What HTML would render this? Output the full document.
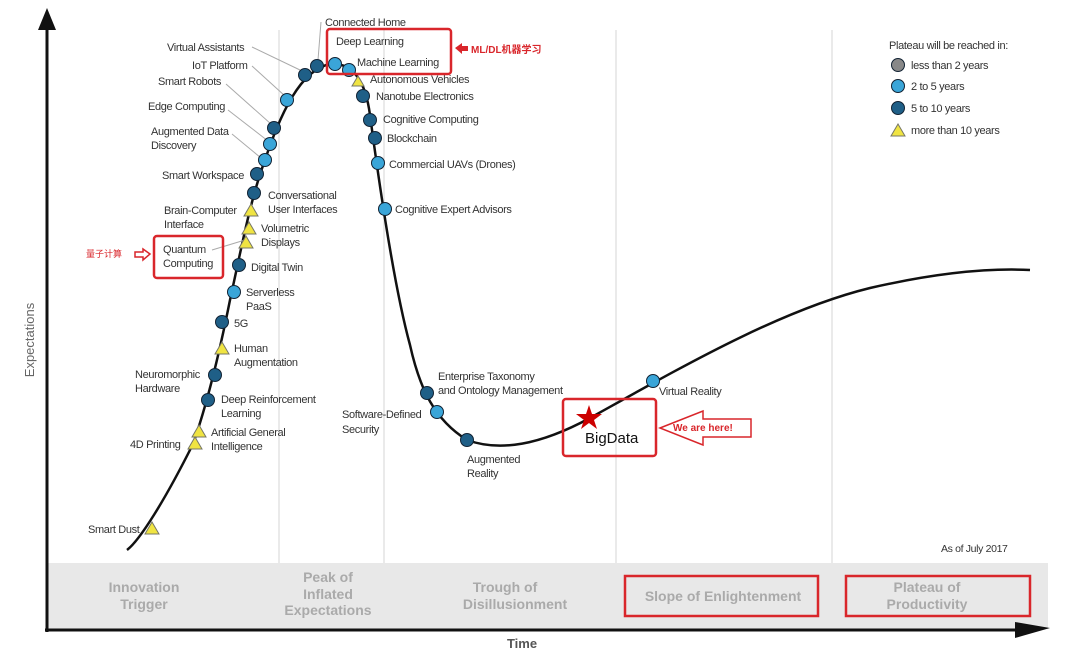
<!DOCTYPE html>
<html><head><meta charset="utf-8"><style>
body{margin:0;background:#fff}
svg{display:block}
.l{font-family:"Liberation Sans",sans-serif;font-size:11px;letter-spacing:-0.35px;fill:#333}
.p{font-family:"Liberation Sans",sans-serif;font-size:14px;font-weight:bold;fill:#aaa;text-anchor:middle}
.ld{stroke:#aaa;stroke-width:1;fill:none}
</style></head><body>
<svg width="1080" height="660" viewBox="0 0 1080 660" xmlns="http://www.w3.org/2000/svg">
<rect x="48" y="563" width="1000" height="66" fill="#e8e8e8"/>
<g stroke="#e4e4e4" stroke-width="1.5">
<line x1="279" y1="30" x2="279" y2="563"/><line x1="384" y1="30" x2="384" y2="563"/>
<line x1="616" y1="30" x2="616" y2="563"/><line x1="832" y1="30" x2="832" y2="563"/>
</g>
<line x1="47" y1="22" x2="47" y2="632" stroke="#111" stroke-width="3"/>
<polygon points="38,30 47,8 56,30" fill="#111"/>
<line x1="45" y1="630" x2="1030" y2="630" stroke="#111" stroke-width="3"/>
<polygon points="1015,622 1050,628 1015,638" fill="#111"/>
<text x="34" y="340" transform="rotate(-90 34 340)" font-family="Liberation Sans,sans-serif" font-size="13" fill="#666" text-anchor="middle">Expectations</text>
<text x="522" y="648" font-family="Liberation Sans,sans-serif" font-size="13" font-weight="bold" fill="#555" text-anchor="middle">Time</text>
<path d="M127,550 C140,540 165,500 193,444 C205,410 218,360 230,300 C240,255 250,200 265,160 C280,115 300,70 330,64 C355,62 366,85 370,115 C380,190 395,290 410,345 C420,390 435,420 467,440 C500,452 540,445 590,418 C680,368 780,310 870,288 C940,272 990,268 1030,270" fill="none" stroke="#111" stroke-width="2.5"/>
<!-- leader lines -->
<path class="ld" d="M252,47 L300,70 M252,66 L285,96 M226,84 L271,124 M228,110 L268,141 M232,134 L261,158 M321,22 L318,60 M212,250 L245,240"/>
<!-- markers -->
<g stroke="#123" stroke-width="1">
<g fill="#1f5f87">
<circle cx="305" cy="75" r="6.5"/><circle cx="317" cy="66" r="6.5"/><circle cx="274" cy="128" r="6.5"/><circle cx="254" cy="193" r="6.5"/><circle cx="257" cy="174" r="6.5"/><circle cx="239" cy="265" r="6.5"/><circle cx="222" cy="322" r="6.5"/><circle cx="215" cy="375" r="6.5"/><circle cx="208" cy="400" r="6.5"/><circle cx="363" cy="96" r="6.5"/><circle cx="370" cy="120" r="6.5"/><circle cx="375" cy="138" r="6.5"/><circle cx="427" cy="393" r="6.5"/><circle cx="467" cy="440" r="6.5"/>
</g>
<g fill="#3aa5d8">
<circle cx="335" cy="64" r="6.5"/><circle cx="349" cy="70" r="6.5"/><circle cx="287" cy="100" r="6.5"/><circle cx="270" cy="144" r="6.5"/><circle cx="265" cy="160" r="6.5"/><circle cx="234" cy="292" r="6.5"/><circle cx="378" cy="163" r="6.5"/><circle cx="385" cy="209" r="6.5"/><circle cx="437" cy="412" r="6.5"/><circle cx="653" cy="381" r="6.5"/>
</g>
<g fill="#f0e442" stroke="#776">
<polygon points="358,76 352,86 364,86"/><polygon points="251,204 244,216 258,216"/><polygon points="249,222 242,234 256,234"/><polygon points="246,236 239,248 253,248"/><polygon points="222,342 215,354 229,354"/><polygon points="199,425 192,437 206,437"/><polygon points="195,437 188,449 202,449"/><polygon points="152,522 145,534 159,534"/>
</g>
</g>
<!-- labels -->
<g class="l">
<text x="325" y="26">Connected Home</text>
<text x="336" y="45">Deep Learning</text>
<text x="357" y="66">Machine Learning</text>
<text x="370" y="83">Autonomous Vehicles</text>
<text x="376" y="100">Nanotube Electronics</text>
<text x="383" y="123">Cognitive Computing</text>
<text x="387" y="142">Blockchain</text>
<text x="389" y="168">Commercial UAVs (Drones)</text>
<text x="395" y="213">Cognitive Expert Advisors</text>
<text x="167" y="51">Virtual Assistants</text>
<text x="192" y="69">IoT Platform</text>
<text x="158" y="85">Smart Robots</text>
<text x="148" y="110">Edge Computing</text>
<text x="151" y="135">Augmented Data</text><text x="151" y="149">Discovery</text>
<text x="162" y="179">Smart Workspace</text>
<text x="268" y="199">Conversational</text><text x="268" y="213">User Interfaces</text>
<text x="164" y="214">Brain-Computer</text><text x="164" y="228">Interface</text>
<text x="261" y="232">Volumetric</text><text x="261" y="246">Displays</text>
<text x="163" y="253">Quantum</text><text x="163" y="267">Computing</text>
<text x="251" y="271">Digital Twin</text>
<text x="246" y="296">Serverless</text><text x="246" y="310">PaaS</text>
<text x="234" y="327">5G</text>
<text x="234" y="352">Human</text><text x="234" y="366">Augmentation</text>
<text x="135" y="378">Neuromorphic</text><text x="135" y="392">Hardware</text>
<text x="221" y="403">Deep Reinforcement</text><text x="221" y="417">Learning</text>
<text x="211" y="436">Artificial General</text><text x="211" y="450">Intelligence</text>
<text x="130" y="448">4D Printing</text>
<text x="88" y="533">Smart Dust</text>
<text x="438" y="380">Enterprise Taxonomy</text><text x="438" y="394">and Ontology Management</text>
<text x="342" y="418">Software-Defined</text><text x="342" y="433">Security</text>
<text x="467" y="463">Augmented</text><text x="467" y="477">Reality</text>
<text x="659" y="395">Virtual Reality</text>
<text x="889" y="49">Plateau will be reached in:</text>
<text x="911" y="69">less than 2 years</text>
<text x="911" y="90">2 to 5 years</text>
<text x="911" y="112">5 to 10 years</text>
<text x="911" y="134">more than 10 years</text>
<text x="941" y="552" font-size="10.5">As of July 2017</text>
</g>
<g stroke="#123" stroke-width="1">
<circle cx="898" cy="65" r="6.5" fill="#888"/><circle cx="898" cy="86" r="6.5" fill="#3aa5d8"/><circle cx="898" cy="108" r="6.5" fill="#1f5f87"/>
<polygon points="898,124 891,136 905,136" fill="#f0e442" stroke="#776"/>
</g>
<!-- phases -->
<text class="p" x="144" y="592">Innovation</text><text class="p" x="144" y="609">Trigger</text>
<text class="p" x="328" y="582">Peak of</text><text class="p" x="328" y="599">Inflated</text><text class="p" x="328" y="615">Expectations</text>
<text class="p" x="505" y="592">Trough of</text><text class="p" x="515" y="609">Disillusionment</text>
<text class="p" x="723" y="601">Slope of Enlightenment</text>
<text class="p" x="927" y="592">Plateau of</text><text class="p" x="927" y="609">Productivity</text>
<!-- red annotations -->
<g fill="none" stroke="#d9262b" stroke-width="2.5">
<rect x="327" y="29" width="124" height="45" rx="3"/>
<rect x="154" y="236" width="69" height="42" rx="3"/>
<rect x="563" y="399" width="93" height="57" rx="3"/>
<rect x="625" y="576" width="193" height="40"/>
<rect x="846" y="576" width="184" height="40"/>
</g>
<polygon points="455,48 462,43 462,46 468,46 468,51 462,51 462,54" fill="#d9262b"/>
<text x="471" y="53" font-family="Liberation Sans,'Noto Sans CJK SC',sans-serif" font-size="10" font-weight="bold" fill="#d9262b">ML/DL机器学习</text>
<text x="86" y="257" font-family="'Noto Sans CJK SC',sans-serif" font-size="9" fill="#d9262b">量子计算</text>
<polygon points="150,254 143,249 143,252 135,252 135,257 143,257 143,260" fill="none" stroke="#d9262b" stroke-width="1.5"/>
<polygon points="660,428 703,411 703,419 751,419 751,437 703,437 703,445" fill="#fff" stroke="#d9262b" stroke-width="1.5"/>
<text x="673" y="431" font-family="Liberation Sans,sans-serif" font-size="10" font-weight="bold" fill="#d9262b">We are here!</text>
<polygon points="589,405 592,414 602,414 594,420 597,429 589,423 581,429 584,420 576,414 586,414" fill="#c00"/>
<text x="585" y="443" font-family="Liberation Sans,sans-serif" font-size="15" fill="#111">BigData</text>
</svg>
</body></html>
